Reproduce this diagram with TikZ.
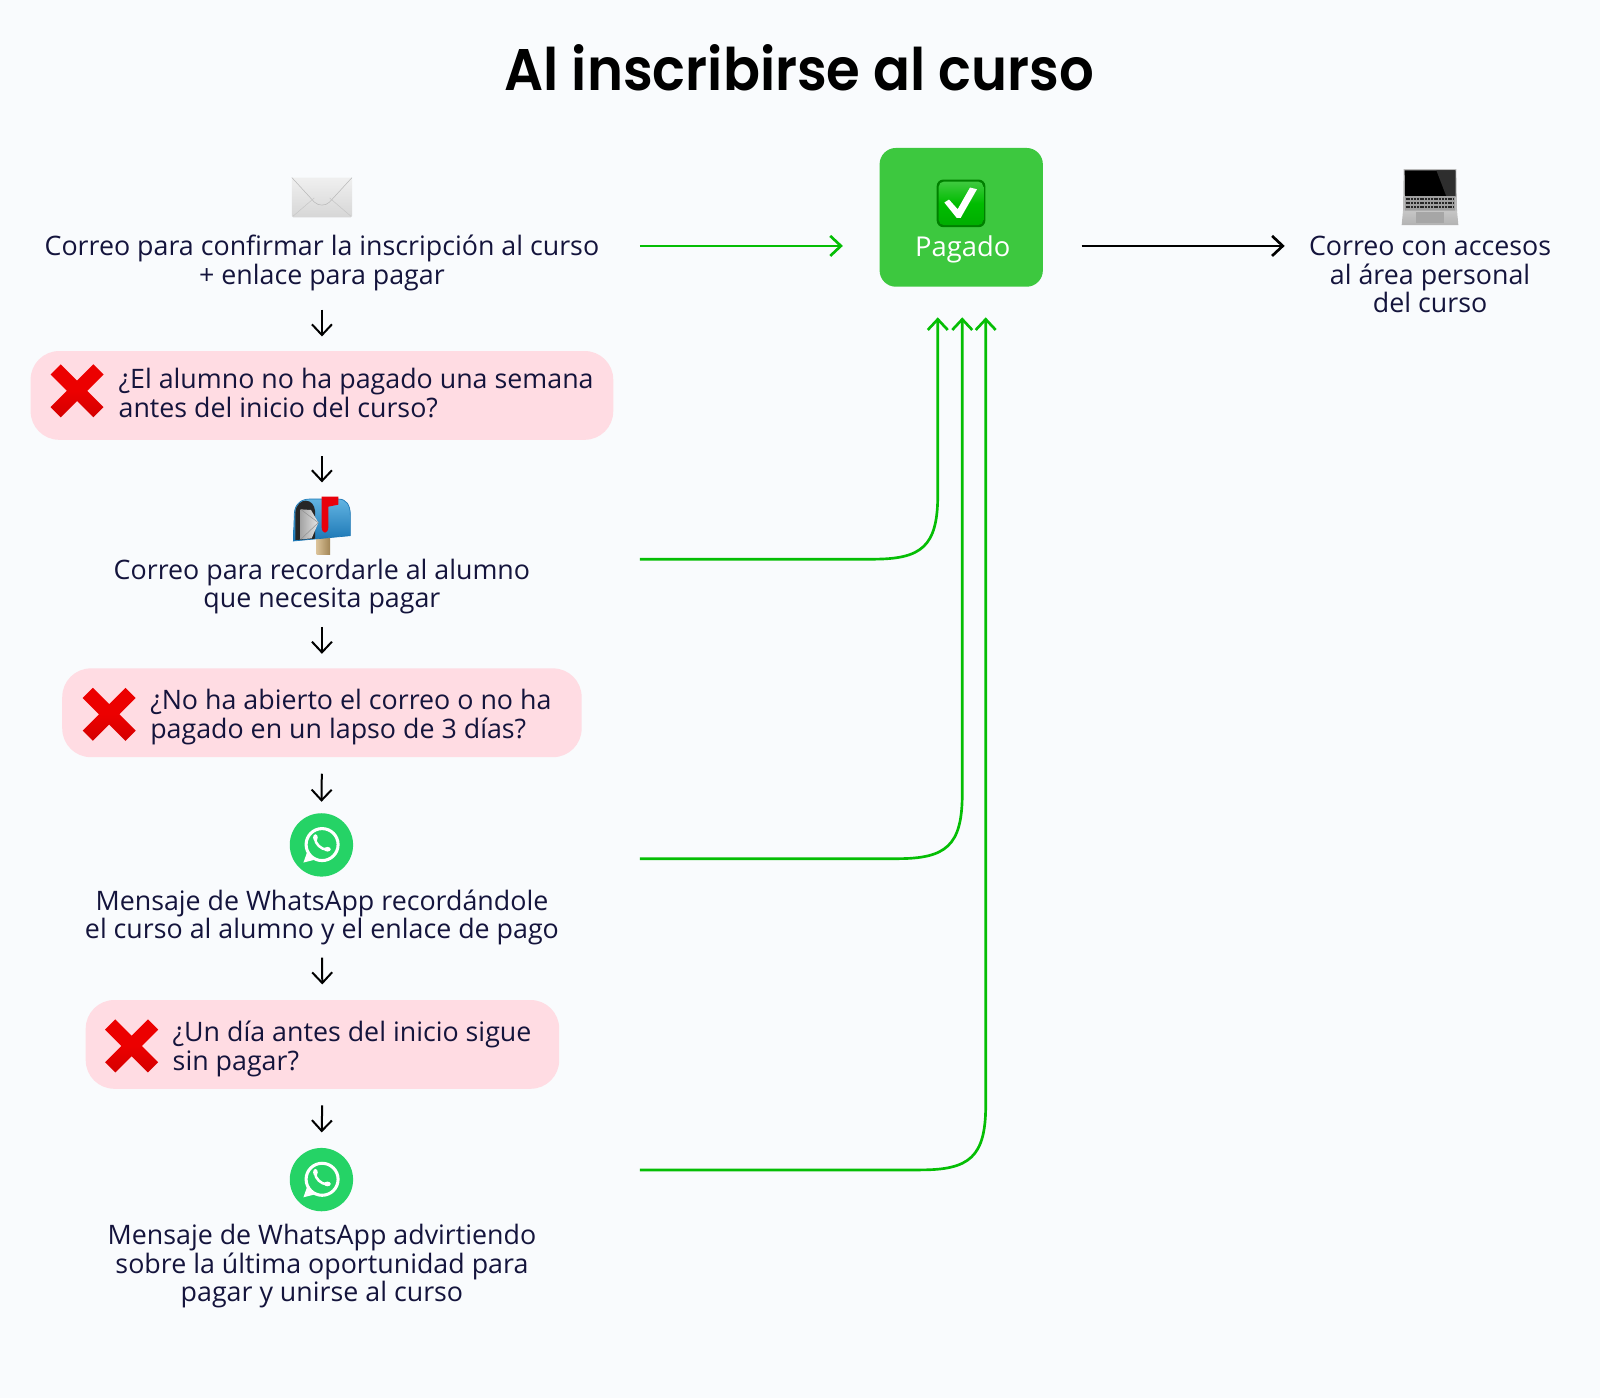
\documentclass[tikz,border=0pt]{standalone}
\usepackage{fontspec}
\usepackage{graphicx}
\setmainfont{Open Sans}
\newfontfamily\titlefont{Poppins SemiBold}
\usetikzlibrary{arrows.meta}
\lineskiplimit=-20pt\relax
\definecolor{bgc}{HTML}{F9FBFD}
\definecolor{ink}{HTML}{14143C}
\definecolor{pinkbox}{HTML}{FFDCE3}
\definecolor{paidgreen}{HTML}{3DC83F}
\definecolor{linegreen}{HTML}{05BE05}
\definecolor{wagreen}{HTML}{25D366}
\definecolor{xred}{HTML}{EC0000}
\definecolor{xdark}{HTML}{D40000}
\definecolor{posttan}{HTML}{C9A66B}
\definecolor{mailtop}{HTML}{62B4E2}
\definecolor{mailbot}{HTML}{1B76B4}
\definecolor{flagred}{HTML}{E8000B}
\def\pxu{0.7653pt}
\tikzset{
  bodytext/.style={inner sep=0pt,align=center,text=ink,font=\fontsize{20.1}{21.43pt}\selectfont},
  qtext/.style={bodytext,align=left,anchor=west},
  qbox/.style={fill=pinkbox,rounded corners=28*\pxu,minimum height=87*\pxu,inner sep=0pt},
  paidbox/.style={fill=paidgreen,rounded corners=16*\pxu,minimum width=160*\pxu,minimum height=136*\pxu,inner sep=0pt},
  iconbox/.style={inner sep=0pt,minimum width=58*\pxu,minimum height=58*\pxu},
  downarrow/.style={draw=black,line width=1.5pt,-{Straight Barb[length=8pt,width=15pt,line width=1.5pt]}},
  greenarrow/.style={draw=linegreen,line width=2pt,-{Straight Barb[length=8pt,width=15pt,line width=2pt]}},
  blackarrow/.style={draw=black,line width=2pt,-{Straight Barb[length=8pt,width=15pt,line width=2pt]}},
  redx/.pic={
    \shade[top color=xred,bottom color=xdark,middle color=xred] (-16,-26)--(0,-10)--(16,-26)--(26,-16)--(10,0)--(26,16)--(16,26)--(0,10)--(-16,26)--(-26,16)--(-10,0)--(-26,-16)--cycle;
  },
  wa/.pic={
    \begin{scope}[x=.25pt,y=-.25pt]
    \fill[wagreen] (0,0) circle (95);
    \draw[white,line width=2.3pt] (2,-1) circle (48);
    \fill[white] (-43,22)--(-54,53)--(-22,45)--cycle;
    \draw[white,line width=1.9pt] (-19,-19) .. controls (-19,-4) and (-1,14) .. (16,14);
    \fill[white] (-18,-22) ellipse (7 and 10);
    \fill[white] (18,13) ellipse (10 and 7);
    \end{scope}
  },
}
\begin{document}
\begin{tikzpicture}[x=\pxu,y=-\pxu]
\useasboundingbox[fill=bgc] (0,0) rectangle (1568,1370);

\node[inner sep=0pt,text=black,font=\titlefont\fontsize{44}{50}\selectfont] (title) at (783.5,66) {\scalebox{0.93}[1]{Al inscribirse al curso}};

% envelope
\node[iconbox] (ienv) at (315.5,193) {};
\shade[top color=gray!12,bottom color=gray!32,rounded corners=1pt] (286,174) rectangle (345,213);
\draw[gray!55,line width=0.4pt] (286,174) -- (308,198) .. controls (312,202) and (319,202) .. (323,198) -- (345,174);
\draw[gray!45,line width=0.4pt] (287,212) -- (308,194) (344,212) -- (323,194);

\node[bodytext] (t1) at (315.5,259) {\strut Correo para confirmar la inscripción al curso\\\strut + enlace para pagar};
\node[qbox,minimum width=571*\pxu] (q1) at (315.5,387.5) {};
\pic at (75.5,383) {redx};
\node[qtext] (q1t) at (116,389) {\strut ¿El alumno no ha pagado una semana\\\strut antes del inicio del curso?};

% mailbox
\node[iconbox] (imail) at (315.5,515) {};
\begin{scope}[shift={(279.3,480.2)},x=.25pt,y=-.25pt]
\shade[left color=posttan!70!white,right color=posttan!80!black] (95,145) rectangle (135,192);
\shade[top color=mailtop,bottom color=mailbot,draw=mailbot,line width=0.5pt] (25,153) -- (28,70) .. controls (30,40) and (50,27) .. (75,27) -- (160,27) .. controls (184,27) and (196,45) .. (196,75) -- (196,137) -- cycle;
\fill[black!85] (31,150) -- (31,68) .. controls (33,42) and (50,32) .. (62,32) .. controls (78,32) and (88,45) .. (90,62) -- (90,146) -- cycle;
\shade[left color=gray!70,right color=gray!20] (47,58) -- (78,60) -- (100,98) -- (80,145) -- (47,148) -- cycle;
\draw[gray!85,line width=0.4pt] (47,58) -- (100,98) -- (47,148);
\fill[flagred] (110,20) -- (160,20) -- (160,44) -- (130,50) -- (130,112) .. controls (130,122) and (124,128) .. (120,128) .. controls (116,128) and (110,122) .. (110,112) -- cycle;
\end{scope}

\node[bodytext] (t2) at (315.5,576) {\strut Correo para recordarle al alumno\\\strut que necesita pagar};
\node[qbox,minimum width=509*\pxu] (q2) at (315.5,698.5) {};
\pic at (107,700) {redx};
\node[qtext] (q2t) at (147,704) {\strut ¿No ha abierto el correo o no ha\\\strut pagado en un lapso de 3 días?};

\node[iconbox] (iwa1) at (315,828) {};
\pic at (315,828) {wa};
\node[bodytext] (t3) at (315.5,900) {\strut Mensaje de WhatsApp recordándole\\\strut el curso al alumno y el enlace de pago};
\node[qbox,minimum width=464*\pxu] (q3) at (316,1023.5) {};
\pic at (129,1025) {redx};
\node[qtext] (q3t) at (169,1029) {\strut ¿Un día antes del inicio sigue\\\strut sin pagar?};

\node[iconbox] (iwa2) at (315,1156) {};
\pic at (315,1156) {wa};
\node[bodytext] (t4) at (315.5,1242) {\strut Mensaje de WhatsApp advirtiendo\\\strut sobre la última oportunidad para\\\strut pagar y unirse al curso};

% paid box
\node[paidbox] (paid) at (942,213) {};
\begin{scope}[shift={(906.5,166.8)},x=.25pt,y=-.25pt]
\fill[green!50!black,rounded corners=5pt] (35,28) rectangle (181,171);
\shade[top color=green!72!black!75!white,bottom color=green!68!black,middle color=green!74!black,rounded corners=4pt] (41,34) rectangle (175,165);
\fill[white] (58,97) -- (72,88) -- (98,117) -- (135,52) -- (156,57) -- (107,143) -- (95,143) -- cycle;
\end{scope}
\node[inner sep=0pt,text=white,font=\fontsize{20.5}{21.43pt}\selectfont] (paidt) at (943.5,245) {\strut Pagado};

% laptop
\node[iconbox] (ilap) at (1401,194) {};
\begin{scope}[shift={(1367.1,156.8)},x=.25pt,y=-.25pt]
\fill[gray!55] (26,27) -- (184,27) -- (186,153) -- (24,153) -- cycle;
\fill[black] (29,31) -- (181,31) -- (181,109) -- (30,109) -- cycle;
\fill[black!82] (124,31) -- (181,31) -- (181,109) -- (154,109) -- cycle;
\fill[gray!75] (30,109) rectangle (180,152);
\foreach \yy in {118,129,141}{\draw[black!85,line width=1.7pt,dash pattern=on 1.5pt off .6pt] (32,\yy) -- (178,\yy);}
\shade[top color=gray!45,bottom color=gray!60] (24,152) -- (186,152) -- (190,195) -- (20,195) -- cycle;
\fill[gray!70] (62,156) rectangle (148,190);
\end{scope}
\node[bodytext] (t5) at (1401.5,273) {\strut Correo con accesos\\\strut al área personal\\\strut del curso};

% connectors
\draw[downarrow,shorten <=16*\pxu,shorten >=14*\pxu] (t1.south) -- (q1.north);
\draw[downarrow,shorten <=16*\pxu,shorten >=13*\pxu] (q1.south) -- (imail.north);
\draw[downarrow,shorten <=10*\pxu,shorten >=14*\pxu] (t2.south) -- (q2.north);
\draw[downarrow,shorten <=16*\pxu,shorten >=13*\pxu] (q2.south) -- (iwa1.north);
\draw[downarrow,shorten <=10*\pxu,shorten >=15*\pxu] (t3.south) -- (q3.north);
\draw[downarrow,shorten <=16*\pxu,shorten >=17*\pxu] (q3.south) -- (iwa2.north);

\coordinate (g1s) at (627,241);
\coordinate (g1e) at (826,241);
\draw[greenarrow] (g1s) -- (g1e);
\coordinate (k1s) at (1060,241);
\coordinate (k1e) at (1259,241);
\draw[blackarrow] (k1s) -- (k1e);

\coordinate (g2s) at (627,548);
\coordinate (g2e) at (919,311);
\draw[greenarrow] (g2s) -- (855,548) .. controls (903,548) and (919,536) .. (919,485) -- (g2e);
\coordinate (g3s) at (627,841.5);
\coordinate (g3e) at (943,311);
\draw[greenarrow] (g3s) -- (879,841.5) .. controls (927,841.5) and (943,829) .. (943,778) -- (g3e);
\coordinate (g4s) at (627,1146.5);
\coordinate (g4e) at (966,311);
\draw[greenarrow] (g4s) -- (902,1146.5) .. controls (950,1146.5) and (966,1134) .. (966,1083) -- (g4e);
\end{tikzpicture}
\end{document}
